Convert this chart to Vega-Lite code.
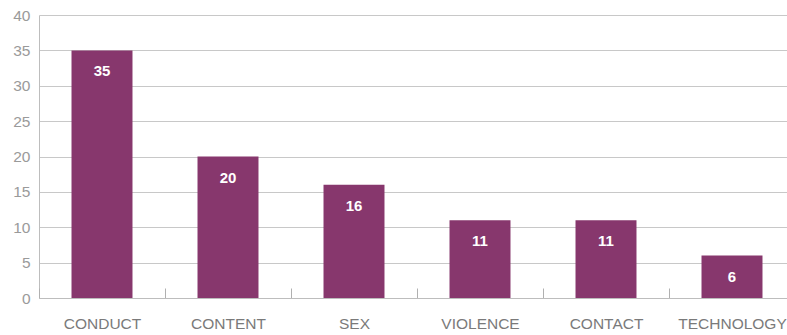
{
  "$schema": "https://vega.github.io/schema/vega-lite/v6.json",
  "width": 748,
  "height": 283,
  "autosize": {"type": "none"},
  "padding": {"left": 39, "top": 15, "right": 0, "bottom": 37},
  "background": "white",
  "config": {"view": {"stroke": null}},
  "data": {"values": [
    {"category": "CONDUCT", "value": 35},
    {"category": "CONTENT", "value": 20},
    {"category": "SEX", "value": 16},
    {"category": "VIOLENCE", "value": 11},
    {"category": "CONTACT", "value": 11},
    {"category": "TECHNOLOGY", "value": 6}
  ]},
  "encoding": {
    "x": {
      "field": "category", "type": "nominal", "sort": null,
      "scale": {"range": [0, 756], "paddingInner": 0.516, "paddingOuter": 0.258},
      "axis": {
        "title": null, "labelAngle": 0, "labelFont": "Liberation Sans", "labelFontSize": 15.5,
        "labelColor": "#7a7a7a", "domainColor": "#bdbdbd", "tickColor": "#b0b0b0",
        "ticks": true, "bandPosition": 0.5, "tickOffset": -63, "labelOffset": 63, "tickSize": -10, "labelPadding": 28, "grid": false, "zindex": 1
      }
    },
    "y": {
      "field": "value", "type": "quantitative",
      "scale": {"domain": [0, 40]},
      "axis": {
        "title": null, "values": [0,5,10,15,20,25,30,35,40], "labelOverlap": false,
        "labelFont": "Liberation Sans", "labelFontSize": 15.5, "labelColor": "#9a9a9a",
        "ticks": false, "labelPadding": 9, "domainColor": "#bdbdbd",
        "gridColor": "#c8c8c8", "grid": true
      }
    }
  },
  "layer": [
    {"mark": {"type": "bar", "color": "#87376d"}},
    {"mark": {"type": "text", "color": "white", "font": "Liberation Sans", "fontWeight": "bold", "fontSize": 15, "baseline": "middle", "dy": 21},
     "encoding": {"text": {"field": "value", "type": "quantitative"}}}
  ]
}
